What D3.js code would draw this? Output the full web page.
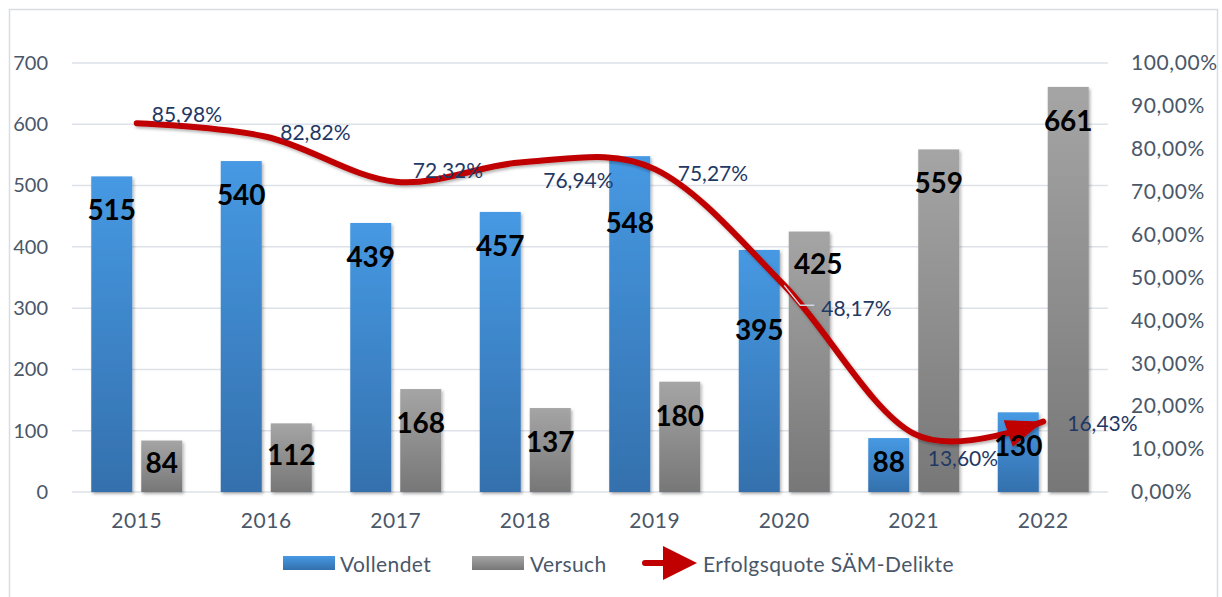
<!DOCTYPE html>
<html>
<head>
<meta charset="utf-8">
<script src="https://cdn.jsdelivr.net/npm/d3@7"></script>
<style>
  body { margin: 0; background: #fff; }
  text { font-family: Lato, "Noto Sans", sans-serif; }
</style>
</head>
<body>
<svg id="chart" width="1222" height="597"></svg>
<script>
let years = ["2015", "2016", "2017", "2018", "2019", "2020", "2021", "2022"];
let vollendet = [515, 540, 439, 457, 548, 395, 88, 130];
let versuch = [84, 112, 168, 137, 180, 425, 559, 661];
let quote = [0.8598, 0.8282, 0.7232, 0.7694, 0.7527, 0.4817, 0.1360, 0.1643];
let leftTicks = [0, 100, 200, 300, 400, 500, 600, 700];
let rightTicks = [0, 0.1, 0.2, 0.3, 0.4, 0.5, 0.6, 0.7, 0.8, 0.9, 1.0];

// where excel put the percent labels, relative to the point
let pctOffsets = [[15, -10], [14, -5], [17, -12], [18, 18], [23, 3], [37, 22], [14, 24], [24, 1]];

let tickColor = "#4a5769";
let gridColor = "#dde2e8";

let svg = d3.select("#chart");
let defs = svg.append("defs");

function vgrad(id, top, bottom) {
    let g = defs.append("linearGradient").attr("id", id)
        .attr("x1", 0).attr("y1", 0).attr("x2", 0).attr("y2", 1);
    g.append("stop").attr("offset", "0%").attr("stop-color", top);
    g.append("stop").attr("offset", "100%").attr("stop-color", bottom);
}
vgrad("blue", "#4699e3", "#3470ad");
vgrad("grey", "#a5a5a5", "#777777");

let shadow = defs.append("filter").attr("id", "shadow")
    .attr("x", "-20%").attr("y", "-20%").attr("width", "140%").attr("height", "140%");
shadow.append("feDropShadow").attr("dx", 1.5).attr("dy", 2)
    .attr("stdDeviation", 1.5).attr("flood-color", "#000").attr("flood-opacity", 0.3);

// chart border
svg.append("rect")
    .attr("x", 9.5).attr("y", 9.5).attr("width", 1208).attr("height", 620)
    .attr("fill", "none").attr("stroke", "#d9dde2").attr("stroke-width", 1.5);

let x = d3.scaleBand().domain(years).range([72, 1108]);
let inner = d3.scaleBand().domain(["v", "s"]).range([-45.5, 45.5]).paddingInner(0.18);
let y = d3.scaleLinear().domain([0, 700]).range([492, 63]);
let yp = d3.scaleLinear().domain([0, 1]).range([492, 63]);

function cx(d) { return x(d) + x.bandwidth() / 2; }

// gridlines
svg.append("g").selectAll("line")
    .data(leftTicks)
    .enter().append("line")
    .attr("x1", 72).attr("x2", 1108)
    .attr("y1", d => y(d)).attr("y2", d => y(d))
    .attr("stroke", gridColor).attr("stroke-width", 1.5);

let fmtPct = d => d3.format(".2f")(d * 100).replace(".", ",") + "%";

let leftAxis = svg.append("g").attr("transform", "translate(72,0)")
    .call(d3.axisLeft(y).tickValues(leftTicks).tickSize(0).tickPadding(24));
let rightAxis = svg.append("g").attr("transform", "translate(1108,0)")
    .call(d3.axisRight(yp).tickValues(rightTicks).tickSize(0).tickPadding(23).tickFormat(fmtPct));
let bottomAxis = svg.append("g").attr("transform", "translate(0,492)")
    .call(d3.axisBottom(x).tickSize(0).tickPadding(21));

[leftAxis, rightAxis, bottomAxis].forEach(function (a) {
    a.select(".domain").remove();
    a.selectAll("text")
        .style("font-family", "Lato, 'Noto Sans', sans-serif")
        .style("font-size", "21px")
        .attr("fill", tickColor);
});
leftAxis.selectAll("text").style("font-size", "20px");
rightAxis.selectAll("text").style("letter-spacing", "0.6px");
bottomAxis.selectAll("text").style("letter-spacing", "0.6px");

// bars
let bars = svg.append("g").attr("filter", "url(#shadow)");
bars.selectAll(".v")
    .data(vollendet)
    .enter().append("rect")
    .attr("x", (d, i) => cx(years[i]) + inner("v"))
    .attr("width", inner.bandwidth())
    .attr("y", d => y(d))
    .attr("height", d => y(0) - y(d))
    .attr("fill", "url(#blue)");
bars.selectAll(".s")
    .data(versuch)
    .enter().append("rect")
    .attr("x", (d, i) => cx(years[i]) + inner("s"))
    .attr("width", inner.bandwidth())
    .attr("y", d => y(d))
    .attr("height", d => y(0) - y(d))
    .attr("fill", "url(#grey)");

// success rate line
let pts = quote.map((q, i) => [cx(years[i]), yp(q)]);
let line = d3.line().curve(d3.curveCardinal.tension(0));

let lineG = svg.append("g").attr("filter", "url(#shadow)");
let path = lineG.append("path")
    .attr("d", line(pts))
    .attr("fill", "none")
    .attr("stroke", "#c00000")
    .attr("stroke-width", 6)
    .attr("stroke-linecap", "round");

// arrow head at the end, turned along the curve
let node = path.node();
let len = node.getTotalLength();
let pA = node.getPointAtLength(len - 25);
let pB = node.getPointAtLength(len);
let ang = Math.atan2(pB.y - pA.y, pB.x - pA.x) * 180 / Math.PI;
lineG.append("path")
    .attr("d", "M-37,-14 L0,0 L-37,14 Z")
    .attr("transform", "translate(" + pB.x + "," + pB.y + ") rotate(" + ang + ")")
    .attr("fill", "#c00000");

// bar labels sit on top of everything, a few were moved by hand in the original
let nudgeV = {4: [0, 33], 5: [0, 46]};
let nudgeS = {5: [9, -2]};

function barLabelY(v) {
    let top = y(v);
    return Math.min(top + 33, (top + y(0)) / 2 - 4);
}

function addBarLabels(values, key, nudge) {
    svg.append("g").selectAll("text")
        .data(values)
        .enter().append("text")
        .attr("x", (d, i) => cx(years[i]) + inner(key) + inner.bandwidth() / 2 + (nudge[i] ? nudge[i][0] : 0))
        .attr("y", (d, i) => barLabelY(d) + (nudge[i] ? nudge[i][1] : 0))
        .attr("text-anchor", "middle")
        .attr("dominant-baseline", "central")
        .style("font-size", "28px")
        .style("font-weight", "bold")
        .attr("fill", "#000")
        .text(d => d);
}
addBarLabels(vollendet, "v", nudgeV);
addBarLabels(versuch, "s", nudgeS);

// leader line for 48,17%
let p5 = pts[5];
svg.append("polyline")
    .attr("points", [[p5[0], p5[1]], [p5[0] + 16, p5[1] + 20], [p5[0] + 30, p5[1] + 20]].join(" "))
    .attr("fill", "none")
    .attr("stroke", "#d0d8e4")
    .attr("stroke-width", 1.5);

svg.append("g").selectAll("text")
    .data(quote)
    .enter().append("text")
    .attr("x", (d, i) => pts[i][0] + pctOffsets[i][0])
    .attr("y", (d, i) => pts[i][1] + pctOffsets[i][1])
    .attr("dominant-baseline", "central")
    .style("font-size", "21px")
    .attr("fill", "#1f3864")
    .text(fmtPct);

// legend
let legend = svg.append("g");
legend.append("rect").attr("x", 283).attr("y", 556).attr("width", 52).attr("height", 14).attr("fill", "url(#blue)");
legend.append("text").attr("x", 340).attr("y", 563).attr("dominant-baseline", "central")
    .style("font-size", "21px").style("letter-spacing", "0.4px").attr("fill", tickColor).text("Vollendet");
legend.append("rect").attr("x", 472).attr("y", 556).attr("width", 52).attr("height", 14).attr("fill", "url(#grey)");
legend.append("text").attr("x", 530).attr("y", 563).attr("dominant-baseline", "central")
    .style("font-size", "21px").style("letter-spacing", "0.4px").attr("fill", tickColor).text("Versuch");
legend.append("line").attr("x1", 645).attr("x2", 670).attr("y1", 563).attr("y2", 563)
    .attr("stroke", "#c00000").attr("stroke-width", 6).attr("stroke-linecap", "round");
legend.append("path").attr("d", "M663,546 L697,563 L663,580 Z").attr("fill", "#c00000");
legend.append("text").attr("x", 703).attr("y", 563).attr("dominant-baseline", "central")
    .style("font-size", "21px").style("letter-spacing", "0.4px").attr("fill", tickColor).text("Erfolgsquote SÄM-Delikte");
</script>
</body>
</html>
